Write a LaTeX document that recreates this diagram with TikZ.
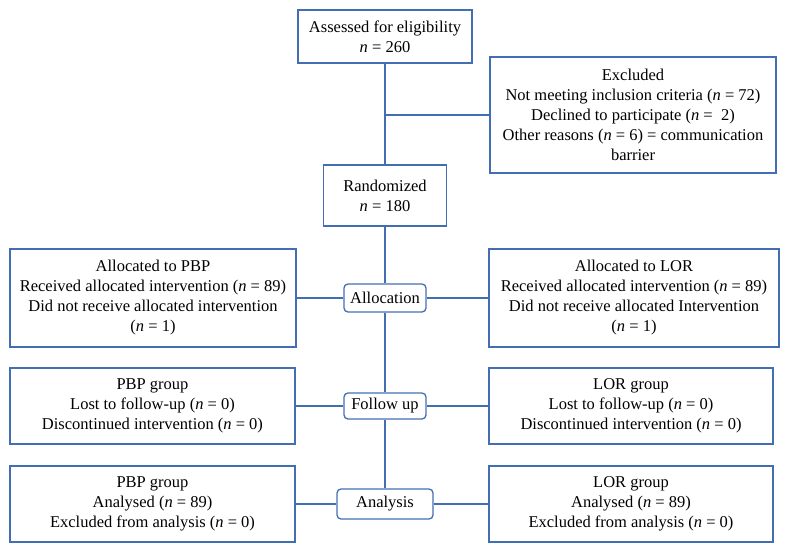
\documentclass[tikz,border=0pt]{standalone}
\usepackage{fontspec}
\setmainfont{Liberation Serif}
\usetikzlibrary{shapes}
\definecolor{lineblue}{RGB}{68,110,180}
\newcommand{\nn}{\textit{n}}
\tikzstyle{bx}=[rectangle,draw=lineblue,line width=1.3pt,align=center,inner sep=2pt,font=\fontsize{16.5}{20}\selectfont]
\tikzstyle{stage}=[bx,rounded corners=4pt]
\tikzstyle{ln}=[draw=lineblue,line width=1.3pt]

\begin{document}
\begin{tikzpicture}[x=1pt,y=-1pt]
\useasboundingbox (0,0) rectangle (787,552);
% enrolment
\node[bx,minimum width=174pt,minimum height=53pt] (assess) at (385,36.5) {Assessed for eligibility\\\nn{} = 260};
\node[bx,minimum width=286pt,minimum height=116pt] (excl) at (633,115) {Excluded\\Not meeting inclusion criteria (\nn{} = 72)\\Declined to participate (\nn{} = \ 2)\\Other reasons (\nn{} = 6) = communication\\barrier};
\node[bx,minimum width=123pt,minimum height=61pt] (rand) at (385,195.5) {Randomized\\\nn{} = 180};
% allocation
\node[bx,minimum width=286pt,minimum height=98pt] (allocpbp) at (153,298) {Allocated to PBP\\Received allocated intervention (\nn{} = 89)\\Did not receive allocated intervention\\(\nn{} = 1)};
\node[stage,minimum width=82pt,minimum height=28pt] (alloc) at (385,298) {Allocation};
\node[bx,minimum width=290pt,minimum height=98pt] (alloclor) at (634,298) {Allocated to LOR\\Received allocated intervention (\nn{} = 89)\\Did not receive allocated Intervention\\(\nn{} = 1)};
% follow up
\node[bx,minimum width=285pt,minimum height=76pt] (fupbp) at (152.5,406) {PBP group\\Lost to follow-up (\nn{} = 0)\\Discontinued intervention (\nn{} = 0)};
\node[stage,minimum width=82pt,minimum height=26pt] (fu) at (385,406) {Follow up};
\node[bx,minimum width=284pt,minimum height=76pt] (fulor) at (631,406) {LOR group\\Lost to follow-up (\nn{} = 0)\\Discontinued intervention (\nn{} = 0)};
% analysis
\node[bx,minimum width=285pt,minimum height=76pt] (anpbp) at (152.5,504) {PBP group\\Analysed (\nn{} = 89)\\Excluded from analysis (\nn{} = 0)};
\node[stage,minimum width=96pt,minimum height=30pt] (an) at (385,504) {Analysis};
\node[bx,minimum width=284pt,minimum height=76pt] (anlor) at (631,504) {LOR group\\Analysed (\nn{} = 89)\\Excluded from analysis (\nn{} = 0)};
% connectors
\coordinate (split) at (assess.south |- excl.west);
\draw[ln] (assess.south) -- (rand.north);
\draw[ln] (split) -- (excl.west);
\draw[ln] (rand.south) -- (alloc.north);
\draw[ln] (alloc.south) -- (fu.north);
\draw[ln] (fu.south) -- (an.north);
\draw[ln] (allocpbp.east) -- (alloc.west);
\draw[ln] (alloc.east) -- (alloclor.west);
\draw[ln] (fupbp.east) -- (fu.west);
\draw[ln] (fu.east) -- (fulor.west);
\draw[ln] (anpbp.east) -- (an.west);
\draw[ln] (an.east) -- (anlor.west);
\end{tikzpicture}
\end{document}
